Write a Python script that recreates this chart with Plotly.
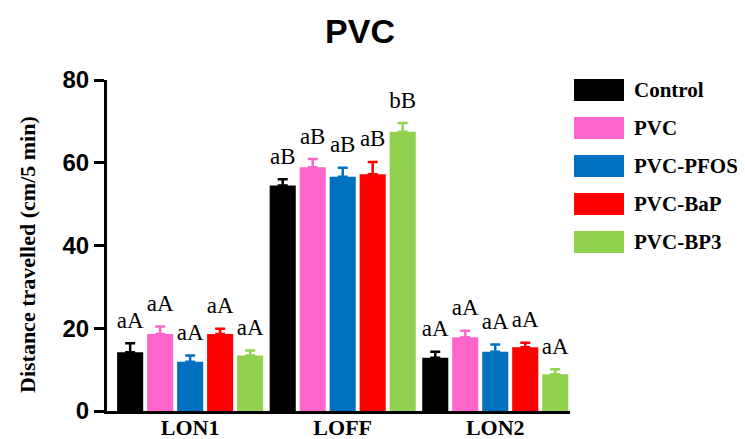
import plotly.graph_objects as go

categories = ["LON1", "LOFF", "LON2"]
series_names = ["Control", "PVC", "PVC-PFOS", "PVC-BaP", "PVC-BP3"]
colors = ["#000000", "#FF66CC", "#0070C0", "#FF0000", "#92D050"]

means = {
    "Control":  [14.2, 54.5, 12.9],
    "PVC":      [18.6, 58.9, 17.8],
    "PVC-PFOS": [11.9, 56.6, 14.3],
    "PVC-BaP":  [18.6, 57.2, 15.4],
    "PVC-BP3":  [13.4, 67.5, 8.9],
}
errors = {
    "Control":  [2.2, 1.5, 1.4],
    "PVC":      [1.8, 2.0, 1.6],
    "PVC-PFOS": [1.5, 2.2, 1.8],
    "PVC-BaP":  [1.3, 3.0, 1.1],
    "PVC-BP3":  [1.2, 2.1, 1.2],
}
letters = {
    "Control":  ["aA", "aB", "aA"],
    "PVC":      ["aA", "aB", "aA"],
    "PVC-PFOS": ["aA", "aB", "aA"],
    "PVC-BaP":  ["aA", "aB", "aA"],
    "PVC-BP3":  ["aA", "bB", "aA"],
}
y_ticks = [0, 20, 40, 60, 80]

SERIF = "Liberation Serif, Times New Roman, serif"
SANS = "Liberation Sans, Arial, sans-serif"

# page body has an 8px margin: work in screen pixels and subtract it
OFF = 8
W, H = 745, 439
plot_left, plot_right, plot_top, plot_bottom = 107, 570, 80, 411  # screen px
ml = plot_left - OFF
mr = W - (plot_right - OFF)
mt = plot_top - OFF
mb = H - (plot_bottom - OFF)
pw, ph = plot_right - plot_left, plot_bottom - plot_top

def px_x(p):
    return (p - plot_left) / pw
def px_y(p):
    return (plot_bottom - p) / ph

fig = go.Figure()
for name, col in zip(series_names, colors):
    fig.add_trace(go.Bar(
        x=categories, y=means[name], name=name, offsetgroup=name,
        marker=dict(color=col, line=dict(width=0)),
        error_y=dict(type="data", array=errors[name], symmetric=False,
                     arrayminus=[0] * len(categories),
                     color=col, thickness=2.5, width=5),
        showlegend=False,
    ))
for name in series_names:
    tops = [m + e for m, e in zip(means[name], errors[name])]
    fig.add_trace(go.Scatter(
        x=categories, y=tops, mode="markers+text", text=letters[name],
        textposition="top center", offsetgroup=name,
        marker=dict(size=14, color="rgba(0,0,0,0)"),
        textfont=dict(family=SERIF, size=23, color="black"),
        showlegend=False, hoverinfo="skip", cliponaxis=False,
    ))

# manual legend with wide colour boxes
for i, (name, col) in enumerate(zip(series_names, colors)):
    yc = 90 + i * 38
    fig.add_shape(type="rect", xref="paper", yref="paper",
                  x0=px_x(574), x1=px_x(624), y0=px_y(yc + 11), y1=px_y(yc - 11),
                  fillcolor=col, line=dict(width=0))
    fig.add_annotation(xref="paper", yref="paper", x=px_x(632), y=px_y(yc),
                       text=name, showarrow=False,
                       xanchor="left", yanchor="middle",
                       font=dict(family=SERIF, size=21, color="black", weight="bold"))

fig.add_annotation(xref="paper", yref="paper", x=px_x(28), y=px_y(255),
                   text="Distance travelled (cm/5 min)", textangle=-90,
                   showarrow=False, xanchor="center", yanchor="middle",
                   font=dict(family=SERIF, size=22, color="black", weight="bold"))

fig.update_layout(
    width=W, height=H,
    margin=dict(l=ml, r=mr, t=mt, b=mb, pad=0, autoexpand=False),
    paper_bgcolor="white", plot_bgcolor="white",
    barmode="group", bargap=0.017, bargroupgap=0.13,
    scattermode="group", scattergap=0.017,
    title=dict(text="PVC", x=(360 - OFF) / W, y=1 - (31 - OFF) / H,
               xanchor="center", yanchor="middle",
               font=dict(family=SANS, size=34, color="black", weight="bold")),
    xaxis=dict(range=[-0.545, 2.49], showline=True, linecolor="black",
               linewidth=3, ticks="", ticklen=0, showgrid=False, zeroline=False,
               automargin=False, ticklabelstandoff=-5,
               tickfont=dict(family=SERIF, size=22, color="black", weight="bold")),
    yaxis=dict(range=[0, 80], tickvals=y_ticks, showline=True,
               linecolor="black", linewidth=3, ticks="outside", ticklen=10,
               tickwidth=2.5, tickcolor="black", showgrid=False,
               zeroline=False, automargin=False,
               tickfont=dict(family=SANS, size=24, color="black", weight="bold")),
)

fig.write_html("out.html")
